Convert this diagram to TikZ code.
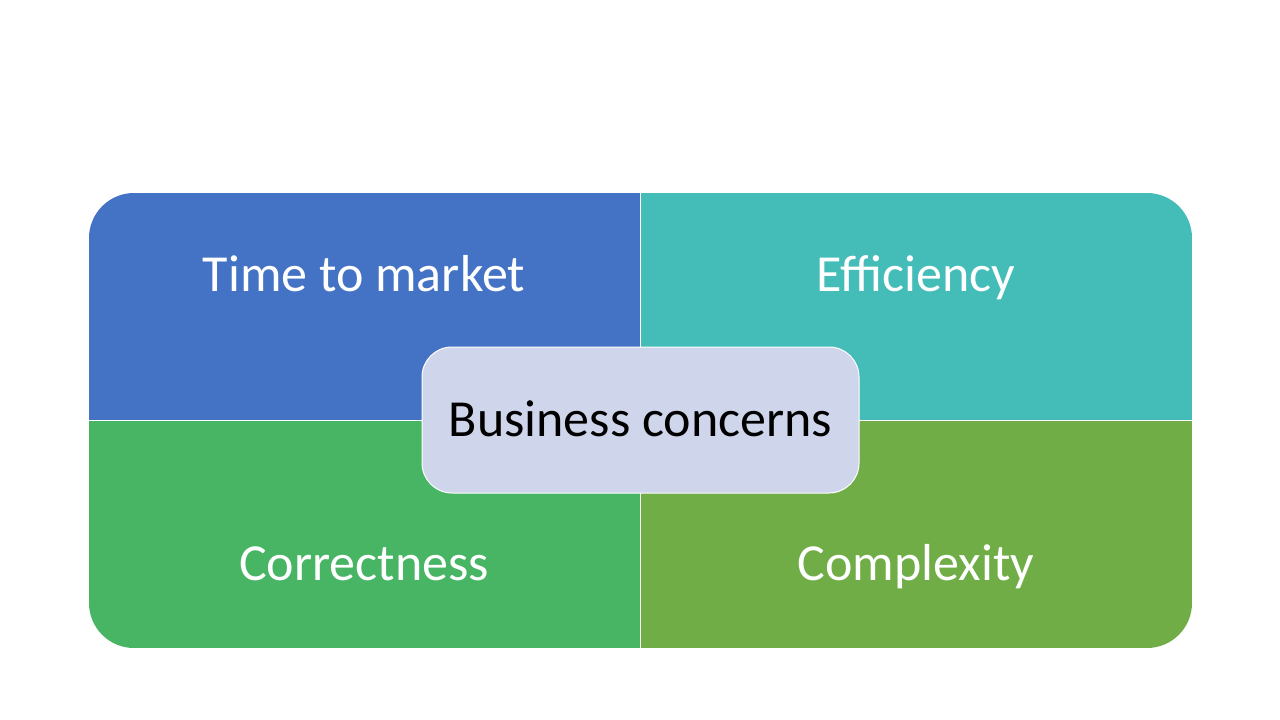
\documentclass[tikz,border=0pt]{standalone}
\usepackage{fontspec}
\setmainfont{Carlito}
\usepackage{tikz}
\usepackage{xcolor}
\definecolor{qblue}{HTML}{4472C4}
\definecolor{qteal}{HTML}{44BDB9}
\definecolor{qgreen}{HTML}{47B563}
\definecolor{qolive}{HTML}{70AD47}
\definecolor{centerfill}{HTML}{CFD5EA}

\begin{document}
\begin{tikzpicture}[x=0.75pt, y=-0.75pt,
        quadtext/.style={text=white, anchor=base, font=\fontsize{39}{47}\selectfont},
        centerbox/.style={draw=white, line width=0.75pt, fill=centerfill, rounded corners=22.5pt,
            minimum width=327.75pt, minimum height=109.5pt, inner sep=0pt, text depth=2.25pt,
            font=\fontsize{39}{47}\selectfont}]
        \useasboundingbox (0,0) rectangle (1280,720);
        % Quadrants
        \begin{scope}
            \clip[rounded corners=33.75pt] (89,193) rectangle (1192,648);
            \foreach \xa/\ya/\xb/\yb/\c in {89/193/640.5/420.5/qblue, 640.5/193/1192/420.5/qteal, 89/420.5/640.5/648/qgreen, 640.5/420.5/1192/648/qolive} {
                \fill[\c] (\xa,\ya) rectangle (\xb,\yb);
            }
            % white seams
            \draw[white, line width=0.9pt] (640.5,193) -- (640.5,648);
            \draw[white, line width=0.9pt] (89,420.5) -- (1192,420.5);
        \end{scope}
        % Labels
        \foreach \n/\x/\y/\t in {time/364/291/Time to market, eff/916/291/Efficiency, corr/364/580/Correctness, comp/916/580/Complexity} {
            \node[quadtext] (\n) at (\x,\y) {\t};
        }
        % Centre box
        \node[centerbox] (concerns) at (640.5,420) {Business concerns};
    \end{tikzpicture}
\end{document}
